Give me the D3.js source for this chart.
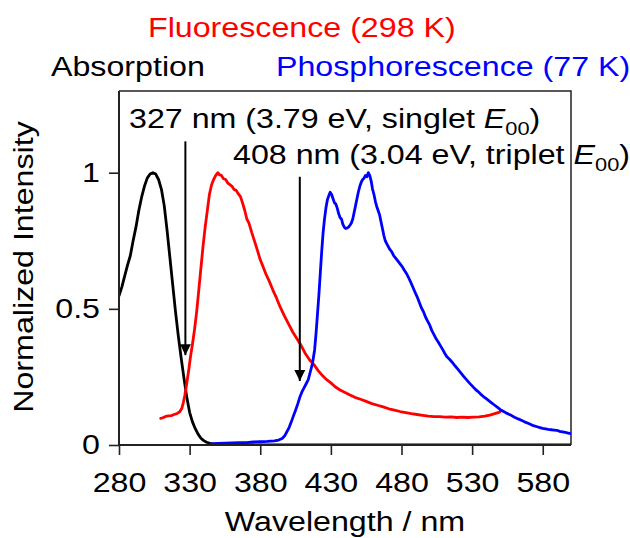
<!DOCTYPE html>
<html>
<head>
<meta charset="utf-8">
<script src="https://cdn.jsdelivr.net/npm/d3@7"></script>
<style>
  html, body { margin: 0; padding: 0; background: #fff; }
  svg { display: block; }
  text { font-family: "Liberation Sans", Arial, Helvetica, sans-serif; }
</style>
</head>
<body>
<svg id="chart" width="630" height="538"></svg>
<script>
// Absorption spectrum (normalized), [wavelength nm, intensity]
const absorption = [
  [280, 0.548], [282, 0.58], [284, 0.62], [286, 0.66], [288, 0.695], [290, 0.75],
  [292, 0.80], [294, 0.86], [296, 0.91], [298, 0.95], [300, 0.98], [302, 0.995],
  [304, 1.0], [306, 0.995], [308, 0.975], [310, 0.94], [312, 0.88], [314, 0.79],
  [316, 0.69], [318, 0.59], [320, 0.49], [322, 0.40], [324, 0.32], [326, 0.245],
  [328, 0.175], [330, 0.12], [332, 0.085], [334, 0.06], [336, 0.04], [338, 0.025],
  [340, 0.016], [342, 0.01], [345, 0.005], [350, 0.002], [360, 0.001], [400, 0.0],
  [500, 0.0], [600, 0.0]
];

// Fluorescence at 298 K (normalized)
const fluorescence = [
  [309.5, 0.098], [311, 0.10], [313, 0.105], [315, 0.107], [317, 0.108], [319, 0.112],
  [321, 0.115], [323, 0.122], [324.5, 0.135], [325.5, 0.155], [326.5, 0.18], [327.5, 0.21],
  [328.5, 0.245], [329.5, 0.28], [330.5, 0.32], [332, 0.37], [333.5, 0.425], [335, 0.49],
  [336.5, 0.57], [338, 0.65], [339.5, 0.73], [341, 0.80], [342.5, 0.86], [344, 0.92],
  [345.5, 0.955], [347, 0.975], [348.5, 0.99], [350, 1.0], [351, 0.993], [352.5, 0.99],
  [354, 0.978], [355.5, 0.975], [357, 0.962], [358.5, 0.956], [360, 0.95], [361.5, 0.938],
  [363, 0.935], [364.5, 0.922], [366, 0.912], [367.5, 0.888], [369, 0.862], [370.5, 0.83],
  [372, 0.815], [374, 0.78], [376, 0.748], [378, 0.715], [380, 0.68], [382, 0.655],
  [384, 0.628], [386.5, 0.60], [389, 0.568], [391.5, 0.54], [394, 0.508], [397, 0.475],
  [400, 0.445], [403, 0.415], [406, 0.39], [409, 0.365], [412, 0.335], [415, 0.312],
  [418, 0.295], [421, 0.273], [424, 0.255], [427, 0.24], [430, 0.228], [433, 0.214],
  [436.5, 0.202], [440, 0.193], [443.5, 0.184], [447, 0.175], [451, 0.168], [455, 0.16],
  [459, 0.152], [463, 0.146], [467, 0.14], [471, 0.133], [475, 0.128], [479, 0.123],
  [483, 0.119], [487, 0.115], [491, 0.112], [495, 0.109], [499, 0.106], [503, 0.104],
  [507, 0.104], [511, 0.102], [515, 0.103], [519, 0.101], [523, 0.102], [527, 0.101],
  [531, 0.102], [535, 0.103], [539, 0.106], [542.5, 0.11], [546, 0.115], [549, 0.12],
  [550, 0.123]
];

// Phosphorescence at 77 K (normalized)
const phosphorescence = [
  [345, 0.004], [350, 0.006], [355, 0.007], [360, 0.008], [365, 0.009], [370, 0.009],
  [375, 0.011], [380, 0.012], [385, 0.013], [390, 0.015], [393, 0.018], [395.5, 0.024],
  [397.5, 0.035], [399, 0.05], [400.5, 0.065], [402, 0.085], [403.5, 0.107], [405, 0.128],
  [406.5, 0.15], [408, 0.175], [409.5, 0.195], [411, 0.21], [412.5, 0.225], [414, 0.24],
  [415.5, 0.27], [417, 0.30], [418.5, 0.35], [419.5, 0.41], [420.5, 0.48], [421.5, 0.55],
  [422.5, 0.63], [423.5, 0.71], [424.5, 0.78], [425.5, 0.83], [426.5, 0.87], [427.5, 0.90],
  [428.5, 0.915], [429.5, 0.928], [430.5, 0.92], [431.5, 0.905], [432.5, 0.89], [433.5, 0.885],
  [434.5, 0.87], [435.5, 0.85], [436.5, 0.835], [437.5, 0.83], [438.5, 0.81], [439.5, 0.80],
  [440.5, 0.795], [441.5, 0.797], [442.5, 0.80], [443.5, 0.807], [444.5, 0.815], [445.5, 0.83],
  [446.5, 0.855], [447.5, 0.88], [448.5, 0.905], [449.5, 0.93], [450.5, 0.95], [451.5, 0.965],
  [452.5, 0.975], [453.5, 0.98], [454.5, 0.99], [455.5, 0.985], [456.5, 1.0], [457.5, 0.99],
  [458.5, 0.97], [459.5, 0.94], [460.5, 0.92], [461.5, 0.895], [462.5, 0.875], [463.5, 0.86],
  [464.5, 0.845], [465.5, 0.82], [466.5, 0.795], [467.5, 0.77], [468.5, 0.75], [470, 0.735],
  [471.5, 0.72], [473, 0.71], [474.5, 0.695], [476, 0.685], [477.5, 0.675], [479, 0.665],
  [480.5, 0.655], [482, 0.642], [483.5, 0.63], [485, 0.615], [486.5, 0.598], [488, 0.58],
  [489.5, 0.562], [491, 0.545], [492.5, 0.525], [494, 0.505], [495.5, 0.49], [497, 0.47],
  [498.5, 0.455], [500, 0.44], [501.5, 0.42], [503, 0.405], [504.5, 0.39], [506, 0.378],
  [507.5, 0.365], [509, 0.352], [510.5, 0.338], [512, 0.325], [514, 0.315], [516, 0.303],
  [518, 0.29], [520, 0.278], [522, 0.265], [524, 0.252], [526, 0.24], [528, 0.228],
  [530, 0.217], [532, 0.206], [534, 0.197], [536, 0.187], [538, 0.178], [540, 0.17],
  [542, 0.162], [544, 0.154], [546, 0.146], [548, 0.138], [550, 0.13], [552, 0.124],
  [554, 0.118], [556, 0.113], [558, 0.108], [560, 0.102], [562, 0.097], [564, 0.093],
  [566, 0.088], [568, 0.083], [570, 0.079], [572, 0.074], [574, 0.07], [576, 0.067],
  [578, 0.064], [580, 0.061], [582, 0.059], [584, 0.057], [586, 0.056], [588, 0.055],
  [590, 0.054], [592, 0.05], [594, 0.048], [596, 0.046], [598, 0.044], [600, 0.042]
];

// Axis ticks
const xTicks = [280, 330, 380, 430, 480, 530, 580];
const yTicks = [0, 0.5, 1];
const yTickLabels = ["0", "0.5", "1"];

// E00 annotations: wavelength, energy, state, arrow top / tip in intensity units
const e00Marks = [
  { nm: 327, eV: "3.79", state: "singlet", top: 1.115, tip: 0.33, tx: 129, ty: 128 },
  { nm: 408, eV: "3.04", state: "triplet", top: 0.985, tip: 0.235, tx: 233, ty: 164 }
];

// Series legend labels
const legendItems = [
  { label: "Fluorescence (298 K)", color: "#ff0000", x: 148, y: 37 },
  { label: "Absorption", color: "#000000", x: 51, y: 76 },
  { label: "Phosphorescence (77 K)", color: "#0000ff", x: 276, y: 76 }
];

const plot = { left: 119, right: 571, top: 91, bottom: 445 };
const FS = 28;        // font size
const SX = 1.15;      // horizontal glyph stretch of the lettering

const svg = d3.select("#chart");

const x = d3.scaleLinear().domain([280, 600]).range([plot.left, plot.right]);
const y = d3.scaleLinear().domain([0, 1.3]).range([plot.bottom, plot.top]);

// Stretched text helper
function label(parent, tx, ty, str, opts = {}) {
  const g = parent.append("g")
    .attr("transform", `translate(${tx},${ty})${opts.rotate ? ` rotate(${opts.rotate})` : ""} scale(${SX},1)`);
  const t = g.append("text")
    .attr("font-size", opts.size || FS)
    .attr("fill", opts.color || "#000")
    .attr("text-anchor", opts.anchor || "start");
  if (str != null) t.text(str);
  return t;
}

// Frame (top & right)
svg.append("path")
  .attr("d", `M${plot.left},${plot.top}H${plot.right}V${plot.bottom}`)
  .attr("fill", "none").attr("stroke", "#222").attr("stroke-width", 1.5);

// Spectra
const line = d3.line().x(d => x(d[0])).y(d => y(d[1]));
svg.append("clipPath").attr("id", "plotClip").append("rect")
  .attr("x", plot.left).attr("y", plot.top - 5)
  .attr("width", plot.right - plot.left).attr("height", plot.bottom - plot.top + 5);

const series = [
  { data: absorption, color: "#000000" },
  { data: fluorescence, color: "#ff0000" },
  { data: phosphorescence, color: "#0000ff" }
];
svg.append("g").attr("clip-path", "url(#plotClip)")
  .selectAll("path").data(series).join("path")
  .attr("d", d => line(d.data))
  .attr("fill", "none")
  .attr("stroke", d => d.color)
  .attr("stroke-width", 2.8)
  .attr("stroke-linejoin", "round")
  .attr("stroke-linecap", "round");

// Axes
const xAxis = svg.append("g")
  .attr("transform", `translate(0,${plot.bottom})`)
  .call(d3.axisBottom(x).tickValues(xTicks).tickSize(10).tickSizeOuter(0).tickPadding(17)
    .tickFormat(d3.format("d")));
const yAxis = svg.append("g")
  .attr("transform", `translate(${plot.left},0)`)
  .call(d3.axisLeft(y).tickValues(yTicks).tickSize(10).tickSizeOuter(0).tickPadding(9)
    .tickFormat((d, i) => yTickLabels[i]));

[xAxis, yAxis].forEach(a => {
  a.select(".domain").attr("stroke", "#222").attr("stroke-width", 2);
  a.selectAll(".tick line").attr("stroke", "#222").attr("stroke-width", 1.6);
  a.selectAll(".tick text")
    .attr("font-size", FS)
    .attr("font-family", '"Liberation Sans", Arial, sans-serif')
    .attr("fill", "#000");
});
// stretch tick labels horizontally around their anchor
xAxis.selectAll(".tick text").attr("transform", `scale(${SX},1)`);
yAxis.selectAll(".tick text").each(function () {
  const t = d3.select(this);
  const x0 = +t.attr("x");
  t.attr("transform", `translate(${x0},0) scale(${SX},1)`).attr("x", 0);
});
// the domain lines meet at the axis crossing
xAxis.select(".domain").attr("d", `M${plot.left - 1},0H${plot.right}`);
yAxis.select(".domain").attr("d", `M0,${plot.top}V${plot.bottom + 1}`);

// Axis titles
label(svg, (plot.left + plot.right) / 2, 531, "Wavelength / nm", { anchor: "middle" });
label(svg, 33, (plot.top + plot.bottom) / 2 - 1, "Normalized Intensity", { anchor: "middle", rotate: -90 });

// Legend labels
legendItems.forEach(d => label(svg, d.x, d.y, d.label, { color: d.color }));

// E00 arrows and annotations
svg.append("defs").append("marker")
  .attr("id", "arrowHead").attr("viewBox", "0 0 10 10")
  .attr("refX", 10).attr("refY", 5)
  .attr("markerWidth", 5.5).attr("markerHeight", 5.5)
  .attr("markerUnits", "strokeWidth")
  .attr("orient", "auto")
  .append("path").attr("d", "M0,0L10,5L0,10Z").attr("fill", "#000");

e00Marks.forEach(m => {
  svg.append("line")
    .attr("x1", x(m.nm)).attr("x2", x(m.nm))
    .attr("y1", y(m.top)).attr("y2", y(m.tip))
    .attr("stroke", "#000").attr("stroke-width", 2)
    .attr("marker-end", "url(#arrowHead)");

  const t = label(svg, m.tx, m.ty, null);
  t.append("tspan").text(`${m.nm} nm (${m.eV} eV, ${m.state} `);
  t.append("tspan").attr("font-style", "italic").text("E");
  t.append("tspan").attr("font-size", 19).attr("dy", 7).text("00");
  t.append("tspan").attr("dy", -7).text(")");
});
</script>
</body>
</html>
